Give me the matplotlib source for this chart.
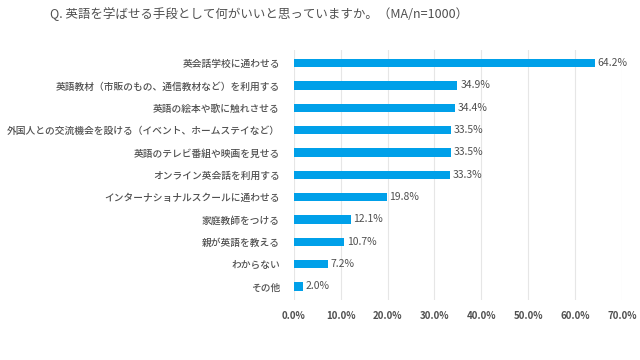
import matplotlib
matplotlib.use("Agg")
import matplotlib.pyplot as plt

plt.rcParams['font.family'] = ['Noto Sans CJK JP', 'DejaVu Sans']

labels = [
    "英会話学校に通わせる",
    "英語教材（市販のもの、通信教材など）を利用する",
    "英語の絵本や歌に触れさせる",
    "外国人との交流機会を設ける（イベント、ホームステイなど）",
    "英語のテレビ番組や映画を見せる",
    "オンライン英会話を利用する",
    "インターナショナルスクールに通わせる",
    "家庭教師をつける",
    "親が英語を教える",
    "わからない",
    "その他",
]
values = [64.2, 34.9, 34.4, 33.5, 33.5, 33.3, 19.8, 12.1, 10.7, 7.2, 2.0]
ticks = [0, 10, 20, 30, 40, 50, 60, 70]

text_c = "#505050"
bar_c = "#00a0e9"

fig = plt.figure(figsize=(6.4, 3.6), dpi=100)
ax = fig.add_axes([0.459, 0.167, 0.513, 0.695])

ypos = list(range(len(labels)))[::-1]
ax.barh(ypos, values, height=0.38, color=bar_c, zorder=3)
for y, v in zip(ypos, values):
    ax.text(v + 0.6, y, f"{v:.1f}%", va="center", ha="left", fontsize=7.5, color=text_c)

ax.set_xlim(0, 70)
ax.set_ylim(-0.6, len(labels) - 0.4)
ax.set_xticks(ticks)
ax.set_xticklabels([f"{t:.1f}%" for t in ticks], fontsize=7, color=text_c, fontweight="bold")
ax.set_yticks(ypos)
ax.set_yticklabels(labels, fontsize=7, color=text_c, fontweight="medium")
ax.tick_params(length=0, pad=10)
ax.tick_params(axis='x', pad=8)
ax.grid(axis='x', color="#e6e6e6", linewidth=0.8, zorder=0)
for s in ax.spines.values():
    s.set_visible(False)

fig.text(0.405, 0.96, "Q. 英語を学ばせる手段として何がいいと思っていますか。（MA/n=1000）",
         ha="center", va="center", fontsize=9, color=text_c)

fig.savefig("out.png", dpi=100)
